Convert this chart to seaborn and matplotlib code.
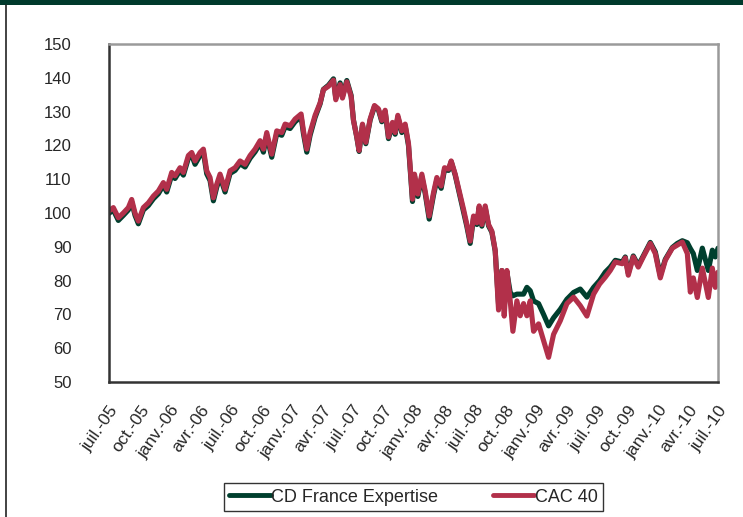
import numpy as np
import pandas as pd
import matplotlib
matplotlib.use("Agg")
import matplotlib.pyplot as plt
from matplotlib.patches import Rectangle
from matplotlib.lines import Line2D
import seaborn as sns

# ---- data (days since 1 July 2005, index values) ----
start_date = "2005-07-01"

day_offsets = [
    0, 13, 28, 43, 58, 68, 78, 88, 103, 118,
    133, 148, 163, 173, 188, 198, 213, 223, 238, 248,
    258, 273, 283, 293, 303, 313, 323, 333, 348, 363,
    378, 393, 408, 423, 438, 453, 463, 473, 488, 503,
    518, 528, 543, 558, 576, 583, 593, 603, 618, 633,
    643, 658, 673, 680, 693, 700, 713, 726, 733, 743,
    750, 760, 770, 783, 796, 808, 818, 828, 838, 850,
    858, 866, 878, 888, 898, 906, 910, 916, 926, 938,
    948, 960, 973, 983, 996, 1006, 1018, 1026, 1038, 1050,
    1063, 1073, 1083, 1093, 1103, 1110, 1118, 1128, 1138, 1148,
    1158, 1168, 1178, 1185, 1193, 1203, 1211, 1223, 1233, 1243,
    1253, 1263, 1273, 1288, 1303, 1318, 1333, 1353, 1373, 1393,
    1413, 1433, 1453, 1471, 1488, 1503, 1518, 1539, 1548, 1557,
    1572, 1587, 1602, 1623, 1638, 1653, 1668, 1689, 1704, 1719,
    1734, 1743, 1752, 1764, 1779, 1797, 1809, 1818, 1826,
]

cac40 = [
    100.6, 101.6, 98.6, 100.0, 101.6, 104.0, 100.0, 97.6, 101.6, 103.0,
    105.0, 106.5, 109.0, 107.0, 112.0, 111.0, 113.4, 112.0, 117.0, 117.9,
    115.4, 117.9, 118.9, 112.5, 110.5, 104.5, 108.5, 111.5, 107.0, 112.5,
    113.4, 115.4, 114.4, 117.0, 118.9, 121.4, 118.9, 123.8, 117.4, 124.3,
    123.8, 126.3, 125.8, 127.8, 129.3, 124.3, 118.9, 123.8, 128.9, 132.6,
    136.5, 137.5, 139.3, 133.5, 138.0, 134.0, 138.8, 134.4, 127.4, 122.5,
    118.5, 126.3, 120.9, 127.8, 131.8, 130.8, 127.4, 130.4, 122.5, 126.8,
    123.8, 128.9, 124.3, 126.3, 120.5, 109.5, 104.1, 111.5, 105.6, 111.5,
    106.5, 99.1, 106.0, 110.5, 108.0, 113.4, 113.0, 115.4, 111.5, 106.5,
    101.1, 96.6, 91.7, 99.1, 97.1, 102.1, 96.6, 102.1, 96.6, 94.6,
    89.0, 71.3, 83.0, 69.5, 83.0, 74.0, 65.0, 74.0, 69.6, 73.2,
    69.6, 74.0, 65.0, 67.2, 62.2, 57.3, 64.1, 68.1, 73.2, 75.1,
    72.6, 69.5, 76.0, 79.0, 81.0, 83.0, 85.5, 85.0, 86.7, 81.6,
    87.0, 84.0, 87.0, 91.0, 88.0, 80.8, 86.0, 89.6, 90.5, 91.4,
    88.0, 76.6, 80.8, 75.0, 83.7, 75.0, 83.7, 78.0, 82.5,
]

cd_france = [
    99.9, 100.9, 97.8, 99.3, 100.9, 103.3, 99.3, 96.8, 100.9, 102.2,
    104.2, 105.7, 108.2, 106.2, 111.2, 110.2, 112.6, 111.2, 116.2, 117.1,
    114.4, 117.0, 118.0, 111.6, 109.6, 103.6, 107.6, 110.7, 106.2, 111.7,
    112.6, 114.6, 113.6, 116.2, 118.1, 120.6, 118.0, 123.0, 116.5, 123.5,
    123.0, 125.5, 125.0, 127.0, 128.5, 123.5, 118.0, 123.0, 128.3, 132.3,
    136.6, 137.8, 139.7, 134.0, 138.5, 134.5, 139.2, 134.8, 127.5, 122.4,
    118.2, 126.0, 120.5, 127.5, 131.5, 130.5, 127.0, 130.0, 122.0, 126.3,
    123.3, 128.4, 123.8, 125.8, 119.9, 108.9, 103.4, 110.9, 104.9, 110.8,
    105.8, 98.2, 105.3, 109.8, 107.3, 112.8, 112.6, 115.2, 111.2, 106.0,
    100.5, 96.0, 91.0, 98.5, 96.6, 101.6, 96.1, 101.6, 96.2, 94.3,
    88.7, 73.0, 83.0, 72.0, 82.5, 76.5, 75.5, 76.0, 76.0, 76.0,
    78.0, 77.0, 74.0, 73.2, 70.0, 66.6, 69.0, 71.5, 74.5, 76.5,
    77.5, 75.1, 78.0, 80.0, 82.5, 84.0, 86.0, 85.5, 87.0, 82.2,
    87.3, 84.5, 87.3, 91.3, 88.5, 81.5, 86.3, 89.8, 91.0, 91.8,
    91.2, 89.5, 88.0, 83.0, 89.6, 83.0, 89.0, 87.0, 89.6,
]

series_names = ["CD France Expertise", "CAC 40"]
series_colors = ["#003F2E", "#B2304A"]

months_fr = {1: "janv.", 4: "avr.", 7: "juil.", 10: "oct."}
y_ticks = [50, 60, 70, 80, 90, 100, 110, 120, 130, 140, 150]

assert len(day_offsets) == len(cac40) == len(cd_france)
dates = pd.Timestamp(start_date) + pd.to_timedelta(day_offsets, unit="D")
n = len(dates)
df = pd.DataFrame({
    "date": np.concatenate([dates, dates]),
    "value": cd_france + cac40,
    "serie": [series_names[0]] * n + [series_names[1]] * n,
})

# ---- figure ----
sns.set_style("white")
plt.rcParams["font.family"] = ["Liberation Sans", "DejaVu Sans"]

W, H = 743, 517
fig = plt.figure(figsize=(W / 100, H / 100), dpi=100)
fig.patch.set_facecolor("white")

# frame decorations: dark green top bar, left border line
fig.add_artist(Rectangle((0, 1 - 5 / H), 1, 5 / H, transform=fig.transFigure,
                         facecolor="#003A2C", edgecolor="none", zorder=0))
fig.add_artist(Line2D([6.5 / W, 6.5 / W], [0, 1 - 5 / H], transform=fig.transFigure,
                      color="#222222", lw=1.2))

ax = fig.add_axes([109 / W, 1 - 382 / H, (718 - 109) / W, (382 - 44) / H])

sns.lineplot(data=df, x="date", y="value", hue="serie",
             palette=dict(zip(series_names, series_colors)),
             linewidth=3.7, ax=ax, legend=False, estimator=None, sort=False)

ax.set_xlim(pd.Timestamp("2005-07-01"), pd.Timestamp("2010-07-01"))
ax.set_ylim(50, 150)
ax.set_yticks(y_ticks)
ax.set_yticklabels([str(v) for v in y_ticks], fontsize=12)

tick_dates = pd.date_range("2005-07-01", "2010-07-01", freq="QS-JAN")
ax.set_xticks(tick_dates)
ax.set_xticklabels([f"{months_fr[d.month]}-{d.strftime('%y')}" for d in tick_dates],
                   rotation=55, ha="right", va="top", rotation_mode="anchor",
                   fontsize=12.5)
ax.set_xlabel("")
ax.set_ylabel("")

ax.tick_params(axis="both", direction="in", length=5, width=1.2, color="#333333")
ax.tick_params(axis="y", pad=27)
ax.tick_params(axis="x", pad=15)

for side in ["left", "bottom"]:
    ax.spines[side].set_color("#333333")
    ax.spines[side].set_linewidth(1.8)
for side in ["top", "right"]:
    ax.spines[side].set_color("#9A9A9A")
    ax.spines[side].set_linewidth(1.8)
    ax.spines[side].set_visible(True)

handles = [Line2D([], [], color=c, lw=3.5) for c in series_colors]
leg = fig.legend(handles, series_names, loc="center",
                 bbox_to_anchor=(413.5 / W, 1 - 497 / H), ncol=2,
                 frameon=True, fancybox=False, edgecolor="#000000",
                 fontsize=13, handlelength=2.3, handletextpad=0.05,
                 columnspacing=3.0, borderpad=0.3)
leg.get_frame().set_linewidth(1.0)

fig.savefig("out.png", dpi=100, facecolor="white")
